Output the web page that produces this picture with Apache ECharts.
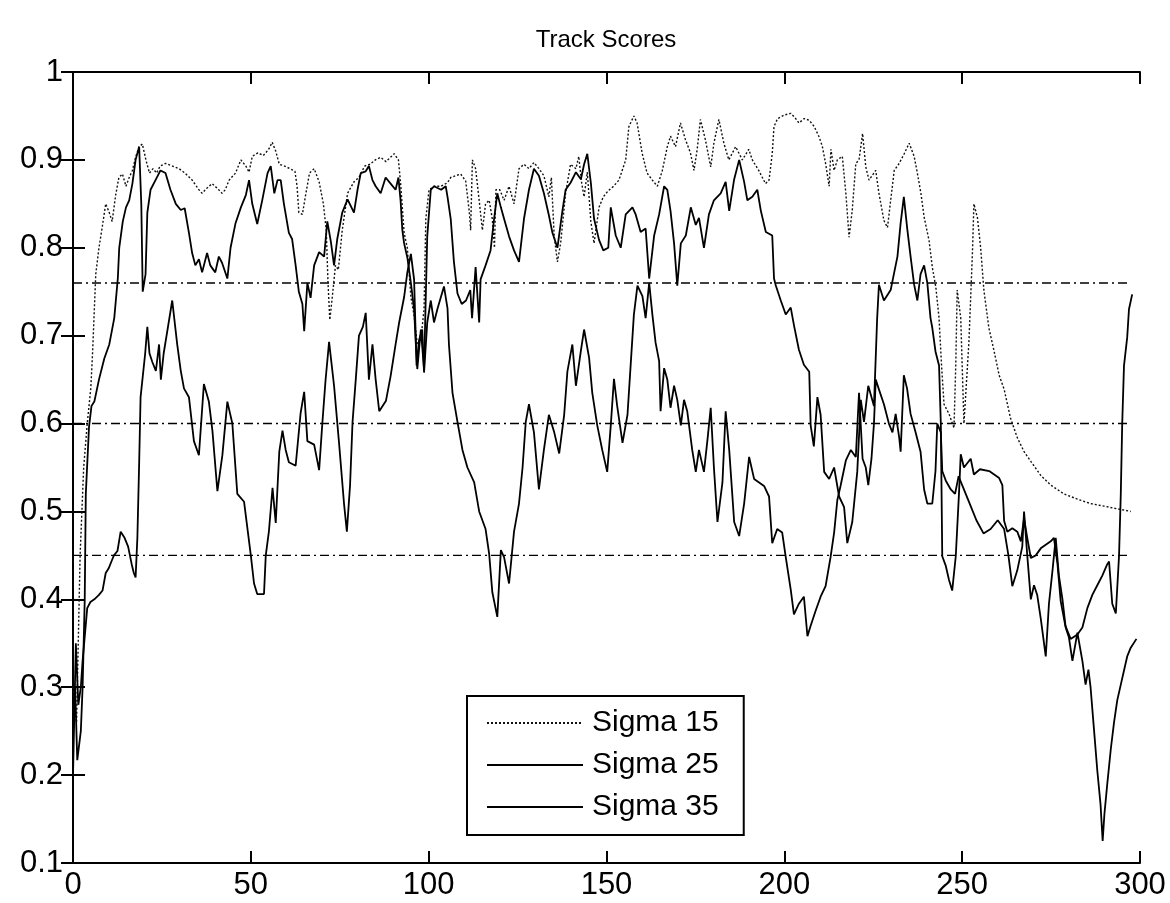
<!DOCTYPE html>
<html><head><meta charset="utf-8">
<script src="https://cdn.jsdelivr.net/npm/echarts@6/dist/echarts.min.js"></script>
<style>html,body{margin:0;padding:0;background:#fff}#c{width:1170px;height:903px}</style>
</head><body><div id="c"></div>
<script>
const chartTitle = 'Track Scores';
const seriesNames = ['Sigma 15', 'Sigma 25', 'Sigma 35'];
const xMin = 0, xMax = 300, xStep = 50;
const yMin = 0.1, yMax = 1, yStep = 0.1;
const thresholds = [0.76, 0.60, 0.45];
const thresholdSpan = [0, 297];

const s15 = [[0,0.30],[1,0.26],[2,0.45],[3,0.55],[4,0.60],[5,0.64],[5.5,0.68],[6.4,0.77],[7.3,0.80],[8.2,0.823],[9.2,0.85],[10.2,0.84],[11,0.83],[12,0.86],[12.9,0.88],[13.9,0.884],[14.9,0.87],[15.8,0.88],[16.7,0.888],[17.6,0.903],[18.6,0.915],[19.5,0.918],[20.5,0.90],[21.5,0.885],[22.5,0.89],[23.5,0.885],[24.5,0.893],[26,0.896],[28,0.893],[29.8,0.89],[31.5,0.885],[33.5,0.877],[35.4,0.866],[36.3,0.862],[37.7,0.868],[39.1,0.873],[40.5,0.868],[41.9,0.862],[42.8,0.866],[43.9,0.877],[45.7,0.885],[47.2,0.9],[48.6,0.893],[49.5,0.886],[50.4,0.904],[52,0.908],[53.5,0.905],[55,0.912],[56,0.92],[57,0.91],[58,0.895],[59.5,0.893],[61,0.89],[62.4,0.887],[63,0.87],[63.5,0.84],[64.5,0.838],[65.4,0.86],[66.5,0.885],[67.8,0.89],[69.2,0.875],[70.4,0.85],[71.2,0.82],[71.7,0.76],[72.2,0.718],[72.8,0.74],[73.8,0.78],[74.6,0.775],[75.7,0.82],[77.2,0.862],[79,0.875],[80.4,0.88],[82,0.893],[83.5,0.895],[85,0.9],[86.5,0.903],[88,0.898],[90.3,0.907],[91.5,0.9],[92.1,0.874],[93.1,0.817],[94,0.80],[95,0.744],[95.9,0.723],[96.8,0.69],[97.8,0.695],[98.7,0.73],[99.2,0.833],[100.1,0.866],[101.5,0.87],[103.4,0.87],[105.3,0.874],[106.2,0.88],[107.6,0.882],[109,0.884],[110.4,0.876],[111.4,0.842],[111.8,0.82],[112.3,0.9],[113.2,0.89],[114.2,0.854],[115.1,0.82],[116,0.85],[117,0.854],[117.9,0.833],[118.5,0.80],[118.9,0.866],[120,0.866],[121.2,0.854],[122.6,0.87],[124,0.85],[125.4,0.89],[126.8,0.895],[128.2,0.89],[129.6,0.897],[131,0.89],[132.4,0.882],[133.8,0.858],[134.5,0.88],[135.3,0.813],[136.2,0.784],[137.1,0.805],[138.5,0.862],[139.9,0.895],[141.4,0.89],[142.2,0.904],[143,0.874],[143.7,0.858],[144.6,0.886],[145.6,0.83],[146.5,0.805],[147.9,0.846],[149.1,0.858],[150.5,0.865],[152,0.87],[153.5,0.877],[155.4,0.9],[156.3,0.938],[157.7,0.95],[158.6,0.942],[160,0.908],[161.4,0.885],[162.9,0.877],[164.3,0.87],[165.7,0.888],[167.1,0.915],[168,0.927],[169.4,0.915],[170.8,0.942],[172.2,0.923],[173.6,0.908],[174.6,0.888],[175.5,0.912],[176.4,0.946],[177.8,0.923],[179.3,0.892],[180.2,0.919],[181.6,0.946],[183,0.919],[184.4,0.9],[186.3,0.915],[188.2,0.9],[190,0.912],[191,0.9],[192.8,0.888],[194.7,0.873],[195.7,0.877],[196.6,0.907],[197.1,0.938],[198.1,0.947],[200,0.951],[201.8,0.953],[203,0.948],[204.1,0.942],[205.6,0.947],[207,0.945],[208.4,0.938],[209.8,0.926],[210.7,0.915],[211.6,0.896],[212.6,0.87],[213.1,0.912],[214,0.888],[214.9,0.9],[216.3,0.904],[217.3,0.862],[218.2,0.812],[219.1,0.843],[220.1,0.896],[221,0.9],[222,0.93],[222.9,0.892],[223.8,0.877],[225.7,0.888],[226.6,0.862],[228,0.831],[229,0.823],[229.9,0.854],[230.9,0.888],[232.3,0.896],[233.7,0.907],[235.1,0.919],[236.5,0.904],[237.4,0.885],[238.4,0.862],[239.3,0.835],[240.7,0.808],[241.6,0.778],[242.6,0.755],[243.5,0.72],[244.2,0.666],[244.9,0.622],[246.3,0.611],[247.7,0.595],[248.2,0.666],[248.6,0.752],[249.6,0.72],[250.5,0.6],[251,0.633],[251.9,0.693],[252.9,0.796],[253.3,0.85],[254.3,0.834],[255.2,0.8],[256.1,0.752],[257.5,0.709],[259,0.682],[260.4,0.655],[261.8,0.639],[263.6,0.606],[265.5,0.584],[267.4,0.568],[269.3,0.557],[272.1,0.541],[274.9,0.53],[278.6,0.52],[282.4,0.514],[286.1,0.509],[289.9,0.506],[293.6,0.503],[297.4,0.5]];

const s25 = [[0,0.25],[0.6,0.3],[1.2,0.217],[2.2,0.25],[2.7,0.30],[3.3,0.40],[3.6,0.52],[4.5,0.596],[5.2,0.62],[6,0.625],[7.3,0.65],[8.8,0.674],[10.2,0.69],[11.6,0.72],[12.6,0.765],[13,0.8],[14,0.83],[14.9,0.846],[15.8,0.854],[16.7,0.873],[17.6,0.9],[18.6,0.915],[19.2,0.85],[19.6,0.75],[20.4,0.77],[20.9,0.84],[21.8,0.866],[23.2,0.877],[24.6,0.888],[26,0.885],[27.4,0.866],[28.9,0.85],[30.3,0.843],[31.4,0.845],[32.6,0.817],[33.5,0.794],[34.4,0.78],[35.4,0.787],[36.3,0.772],[37.7,0.794],[38.6,0.78],[40,0.772],[41,0.79],[41.9,0.783],[43.4,0.765],[44.3,0.8],[45.7,0.828],[47.2,0.846],[48.6,0.86],[49.5,0.877],[50.4,0.85],[51.8,0.827],[53.2,0.854],[54.7,0.885],[55.6,0.893],[56.6,0.862],[57.5,0.877],[58.4,0.877],[59.3,0.85],[60.7,0.817],[61.6,0.81],[62.6,0.78],[63.5,0.75],[64.5,0.736],[65,0.705],[65.9,0.76],[66.8,0.743],[67.8,0.78],[69.2,0.795],[70.6,0.79],[71.5,0.83],[72.5,0.807],[73.4,0.78],[74.3,0.81],[75.7,0.84],[77.2,0.855],[79,0.84],[80,0.866],[80.9,0.885],[82.3,0.887],[83.2,0.893],[84.2,0.877],[85.1,0.87],[86.5,0.862],[87.9,0.88],[89.3,0.873],[90.7,0.866],[91.5,0.88],[92.1,0.854],[92.6,0.82],[93.1,0.805],[94,0.789],[95,0.76],[95.9,0.73],[96.4,0.69],[96.8,0.662],[97.8,0.707],[98.7,0.662],[99.6,0.813],[100.6,0.866],[101.5,0.87],[103.5,0.866],[104.8,0.87],[105.3,0.858],[106.2,0.833],[107.1,0.784],[108.1,0.748],[109.3,0.736],[110.5,0.74],[111.7,0.752],[112.2,0.72],[113.2,0.778],[114.2,0.715],[114.6,0.764],[116,0.78],[117.4,0.797],[118.4,0.833],[119.3,0.862],[120.3,0.846],[121.2,0.833],[122.6,0.813],[124,0.797],[125.4,0.784],[126.8,0.833],[128.2,0.866],[129.6,0.89],[131,0.882],[132.4,0.862],[133.8,0.837],[134.8,0.817],[136.2,0.8],[137.6,0.842],[138.5,0.866],[139.9,0.874],[141.4,0.886],[142.8,0.878],[143.7,0.895],[144.6,0.907],[145.6,0.874],[146.5,0.833],[147.9,0.809],[149.1,0.797],[150.5,0.80],[151.2,0.846],[152.6,0.814],[154,0.80],[155.4,0.838],[157.3,0.846],[158.2,0.838],[159.6,0.818],[161,0.822],[162,0.765],[163.4,0.814],[164.8,0.838],[166.2,0.87],[167.1,0.866],[168,0.842],[169,0.805],[169.9,0.757],[170.9,0.805],[172.3,0.814],[173.7,0.846],[175.1,0.826],[176,0.834],[177.4,0.8],[178.8,0.838],[180.2,0.854],[182.1,0.862],[183.5,0.875],[184.5,0.842],[185.9,0.878],[187.3,0.9],[188.7,0.875],[189.6,0.854],[191,0.858],[192.4,0.866],[193.4,0.842],[194.8,0.818],[196.6,0.814],[197.1,0.765],[197.6,0.757],[199,0.74],[200.4,0.724],[201.8,0.732],[202.7,0.712],[204.1,0.684],[205.5,0.667],[207,0.659],[207.4,0.598],[208.3,0.574],[209.3,0.63],[210.2,0.61],[211.2,0.545],[212.6,0.537],[214,0.55],[215.4,0.517],[216.8,0.505],[217.7,0.464],[219.1,0.488],[220.5,0.545],[221.5,0.627],[222.4,0.602],[223.6,0.643],[225.2,0.62],[226.1,0.72],[226.6,0.758],[228,0.74],[229.9,0.752],[230.8,0.77],[231.8,0.79],[232.7,0.828],[233.6,0.858],[234.6,0.82],[235.5,0.79],[236.5,0.758],[237.4,0.74],[238.3,0.77],[239.3,0.78],[240.2,0.76],[241.1,0.72],[241.6,0.709],[242.5,0.682],[243.5,0.666],[244,0.6],[244.4,0.449],[245.4,0.438],[246.3,0.422],[247.2,0.41],[248.2,0.449],[249.1,0.52],[249.6,0.565],[250.5,0.55],[252.4,0.56],[253.3,0.542],[255,0.548],[257.6,0.546],[259,0.542],[260.4,0.538],[261.3,0.53],[261.8,0.489],[262.7,0.477],[264.1,0.481],[265.5,0.477],[266.5,0.466],[267.4,0.492],[268.3,0.47],[269.3,0.447],[270.7,0.45],[272.1,0.458],[273.5,0.462],[274.9,0.466],[275.8,0.47],[276.8,0.44],[277.7,0.398],[279,0.37],[280.5,0.355],[282.4,0.36],[283.8,0.368],[285.2,0.39],[286.6,0.405],[288,0.416],[289.4,0.427],[290.8,0.44],[291.3,0.443],[292.2,0.395],[293.2,0.384],[294.1,0.449],[294.6,0.52],[295,0.6],[295.5,0.666],[296.4,0.698],[296.9,0.73],[297.8,0.747]];

const s35 = [[0,0.2],[0.8,0.35],[1.5,0.28],[2.2,0.3],[2.7,0.33],[4,0.39],[4.9,0.397],[6,0.40],[7.3,0.405],[8.3,0.41],[9.2,0.43],[10,0.435],[11,0.445],[11.5,0.45],[12.5,0.455],[13.4,0.477],[14.5,0.47],[15.5,0.46],[16.5,0.44],[17.1,0.43],[17.6,0.425],[18.1,0.47],[18.6,0.555],[19,0.63],[20.3,0.68],[20.9,0.71],[21.5,0.68],[22.3,0.67],[23.3,0.66],[24.2,0.69],[24.7,0.65],[25.5,0.68],[26.5,0.705],[27.9,0.74],[29.3,0.69],[30.3,0.66],[31.2,0.64],[32.6,0.63],[34,0.58],[35.4,0.564],[36.8,0.645],[38.2,0.625],[39.2,0.592],[40.6,0.523],[42,0.564],[43.4,0.625],[44.8,0.6],[46.2,0.52],[48.1,0.511],[50,0.45],[50.9,0.418],[51.8,0.406],[53.7,0.406],[54.2,0.45],[55.1,0.478],[56.1,0.527],[57,0.487],[58,0.568],[58.9,0.592],[59.8,0.57],[60.7,0.556],[62.6,0.552],[64,0.612],[65,0.636],[65.9,0.58],[67.8,0.576],[69.2,0.547],[70.1,0.6],[71,0.649],[72,0.693],[73.4,0.643],[74.8,0.578],[76.2,0.509],[77,0.477],[77.9,0.53],[78.6,0.602],[79.5,0.65],[80.4,0.70],[81.5,0.71],[82.3,0.726],[83.2,0.65],[84.2,0.69],[85.1,0.65],[86.1,0.614],[88,0.626],[89.3,0.654],[90.7,0.69],[91.7,0.715],[93.1,0.744],[94,0.772],[95,0.793],[95.9,0.764],[96.6,0.666],[97.3,0.695],[98.2,0.707],[98.7,0.658],[99.6,0.715],[100.6,0.74],[101.5,0.715],[102.5,0.731],[104.3,0.756],[105.3,0.731],[105.7,0.69],[106.7,0.635],[108.1,0.602],[109.5,0.57],[110.9,0.55],[112.8,0.533],[114.2,0.5],[116,0.48],[117,0.452],[117.9,0.408],[119.3,0.38],[120.3,0.456],[121.2,0.448],[122.6,0.418],[124,0.477],[125.4,0.509],[126.4,0.55],[127.3,0.602],[128.2,0.622],[129.6,0.59],[131,0.525],[132.4,0.57],[133.8,0.61],[135.3,0.59],[136.7,0.566],[138.1,0.61],[139,0.659],[140.4,0.69],[141.4,0.643],[142.8,0.683],[143.7,0.707],[145.1,0.675],[146,0.635],[147.4,0.598],[148.8,0.57],[150.2,0.545],[151.2,0.598],[152.1,0.651],[153,0.62],[154.5,0.578],[155.9,0.61],[156.8,0.667],[157.7,0.724],[158.7,0.757],[160.1,0.745],[161,0.72],[162,0.76],[162.9,0.724],[163.8,0.692],[164.8,0.671],[165.2,0.614],[166.2,0.663],[167.1,0.65],[168,0.618],[169,0.643],[169.9,0.627],[170.9,0.598],[171.8,0.627],[172.7,0.614],[174.1,0.57],[175.1,0.545],[176,0.57],[177.4,0.545],[178.4,0.582],[179.3,0.618],[180.2,0.55],[181.2,0.488],[182.6,0.533],[183.5,0.614],[184.5,0.57],[185.9,0.488],[187.3,0.472],[188.7,0.509],[190.1,0.562],[191.5,0.537],[192.9,0.533],[194.3,0.529],[195.7,0.517],[196.6,0.464],[198,0.48],[199.4,0.476],[200.4,0.448],[201.8,0.411],[202.7,0.383],[204.1,0.395],[205.5,0.403],[206.5,0.358],[207.4,0.37],[208.8,0.387],[210.2,0.403],[211.6,0.415],[213,0.448],[214,0.476],[214.9,0.513],[215.8,0.529],[217.3,0.558],[218.7,0.57],[220.1,0.562],[221,0.635],[222,0.56],[222.9,0.55],[223.6,0.53],[224.5,0.56],[225.2,0.6],[225.7,0.65],[226.5,0.64],[228,0.622],[229.4,0.6],[230.4,0.59],[231.3,0.611],[232.3,0.584],[232.7,0.568],[233.6,0.655],[234.5,0.64],[235.5,0.611],[236.9,0.59],[238.3,0.568],[239.3,0.525],[240.2,0.509],[241.6,0.509],[242.5,0.546],[243,0.6],[244,0.59],[244.4,0.546],[245.4,0.535],[246.8,0.525],[248,0.52],[249,0.54],[250,0.53],[252,0.51],[254,0.49],[256,0.475],[258,0.48],[260,0.49],[261.8,0.48],[263,0.45],[264.1,0.415],[265.5,0.433],[266.9,0.46],[267.4,0.5],[268.3,0.45],[269.3,0.40],[270.2,0.416],[271.1,0.405],[272.1,0.378],[273.5,0.335],[274.4,0.395],[275.4,0.433],[276.3,0.47],[277.2,0.427],[278.2,0.40],[279.1,0.368],[280,0.357],[281,0.33],[282.4,0.362],[283.8,0.33],[284.7,0.303],[285.5,0.32],[286.1,0.30],[287.1,0.25],[288,0.205],[288.9,0.167],[289.5,0.125],[290,0.156],[290.8,0.19],[291.8,0.23],[292.7,0.26],[293.6,0.285],[294.6,0.303],[295.5,0.319],[296.4,0.335],[297.4,0.345],[299,0.355]];

const FONT = 'Liberation Sans, Arial, Helvetica, sans-serif';
const chart = echarts.init(document.getElementById('c'), null, {renderer: 'canvas'});

const axisCommon = {
  axisLine: {show: true, lineStyle: {color: '#000', width: 2}},
  axisTick: {show: true, inside: true, length: 12, lineStyle: {color: '#000', width: 2}},
  splitLine: {show: false}
};

const series = [
  {name: seriesNames[0], type: 'line', data: s15, showSymbol: false, symbol: 'none',
   itemStyle: {color: '#111'},
   lineStyle: {color: '#111', width: 1.4, type: [2, 2]}, z: 3},
  {name: seriesNames[1], type: 'line', data: s25, showSymbol: false, symbol: 'none',
   itemStyle: {color: '#000'},
   lineStyle: {color: '#000', width: 1.8}, z: 4},
  {name: seriesNames[2], type: 'line', data: s35, showSymbol: false, symbol: 'none',
   itemStyle: {color: '#000'},
   lineStyle: {color: '#000', width: 1.8}, z: 4}
];
thresholds.forEach((t, i) => {
  series.push({name: 'threshold' + i, type: 'line', silent: true, showSymbol: false, symbol: 'none',
    data: [[thresholdSpan[0], t], [thresholdSpan[1], t]],
    itemStyle: {color: '#000'},
    lineStyle: {color: '#000', width: 1.4, type: [9, 4, 2, 4]}, z: 2});
});

chart.setOption({
  animation: false,
  backgroundColor: '#fff',
  title: {text: chartTitle, left: 606, top: 28, padding: 0, textAlign: 'center',
    textStyle: {fontFamily: FONT, fontSize: 24, fontWeight: 'normal', color: '#000'}},
  grid: {left: 73, right: 30, top: 72, bottom: 40, containLabel: false},
  legend: {
    data: seriesNames, orient: 'vertical', left: 467, top: 696,
    itemWidth: 96, itemHeight: 14, itemGap: 12,
    padding: [12, 25, 13, 19],
    backgroundColor: '#fff', borderColor: '#000', borderWidth: 2,
    itemStyle: {opacity: 0},
    textStyle: {fontFamily: FONT, fontSize: 30, color: '#000', lineHeight: 30, padding: [0, 0, 0, 4]},
    selectedMode: false
  },
  xAxis: [
    Object.assign({type: 'value', min: xMin, max: xMax, interval: xStep, position: 'bottom',
      axisLabel: {show: true, color: '#000', fontFamily: FONT, fontSize: 31, margin: 7}}, axisCommon),
    Object.assign({type: 'value', min: xMin, max: xMax, interval: xStep, position: 'top',
      axisLabel: {show: false}}, axisCommon)
  ],
  yAxis: [
    Object.assign({type: 'value', min: yMin, max: yMax, interval: yStep, position: 'left',
      axisLabel: {show: true, color: '#000', fontFamily: FONT, fontSize: 31, margin: 10,
        formatter: v => String(Math.round(v * 10) / 10)}}, axisCommon),
    Object.assign({type: 'value', min: yMin, max: yMax, interval: yStep, position: 'right',
      axisLabel: {show: false}}, axisCommon)
  ],
  series: series
});
</script>
</body></html>
